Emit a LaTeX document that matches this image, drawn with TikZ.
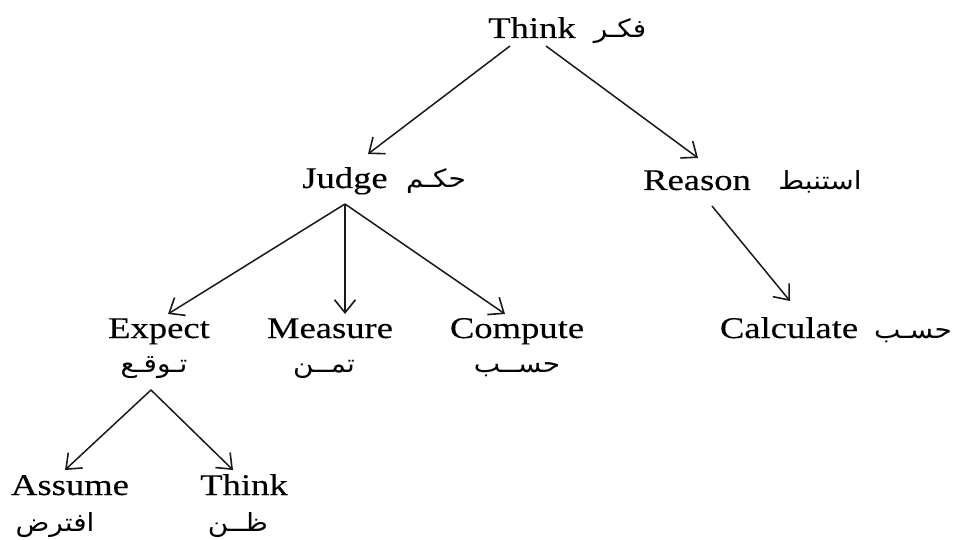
\documentclass[tikz,border=0pt]{standalone}
\usepackage{fontspec}
\setmainfont{Liberation Serif}[FakeStretch=1.22,FakeBold=0.25]
\newfontfamily\arabicfont[Script=Arabic,FakeStretch=1.12]{DejaVu Sans}
\TeXXeTstate=1
\usetikzlibrary{arrows.meta,calc}
\begin{document}
\begin{tikzpicture}[x=1pt,y=-1pt,
  en/.style={anchor=base,inner sep=0pt,font=\fontsize{30}{36}\selectfont},
  ar/.style={anchor=base,inner sep=0pt,font=\arabicfont\fontsize{25}{30}\selectfont},
  arr/.style={-{Straight Barb[length=13pt,width=21pt,line width=1.6pt]},line width=1.5pt,black!90}]
\useasboundingbox (0,0) rectangle (953,540);
% top level
\node[en] (think) at (532,38) {Think};
\node[ar] (thinkAr) at (620,38) {\beginR فكـر\endR};
% second level
\node[en] (judge) at (345,188) {Judge};
\node[ar] (judgeAr) at (436,188) {\beginR حكـم\endR};
\node[en] (reason) at (697,190) {Reason};
\node[ar] (reasonAr) at (820,190) {\beginR استنبط\endR};
% third level
\node[en] (expect) at (159,338) {Expect};
\node[ar] (expectAr) at (154,372) {\beginR تـوقـع\endR};
\node[en] (measure) at (330,338) {Measure};
\node[ar] (measureAr) at (324,372) {\beginR تمــن\endR};
\node[en] (compute) at (517,338) {Compute};
\node[ar] (computeAr) at (517,372) {\beginR حســب\endR};
\node[en] (calculate) at (789,338) {Calculate};
\node[ar] (calculateAr) at (913,338) {\beginR حسـب\endR};
% fourth level
\node[en] (assume) at (70,495) {Assume};
\node[ar] (assumeAr) at (55,531) {\beginR افترض\endR};
\node[en] (think2) at (244,495) {Think};
\node[ar] (think2Ar) at (238,531) {\beginR ظــن\endR};
% connectors
\draw[arr] ($(think.base)+(-22,8)$) -- ($(judge.base)+(23,-34)$);
\draw[arr] ($(think.base)+(14,8)$) -- ($(reason.base)+(1,-32)$);
\draw[arr] ($(judge.base)+(0,16)$) -- ($(expect.base)+(9,-24)$);
\draw[arr] ($(judge.base)+(0,16)$) -- ($(measure.base)+(15,-24)$);
\draw[arr] ($(judge.base)+(0,16)$) -- ($(compute.base)+(-12,-24)$);
\draw[arr] ($(reason.base)+(15,16)$) -- ($(calculate.base)+(1,-37)$);
\draw[arr] ($(expectAr.base)+(-3,18)$) -- ($(assume.base)+(-5,-25)$);
\draw[arr] ($(expectAr.base)+(-3,18)$) -- ($(think2.base)+(-11,-25)$);
\end{tikzpicture}
\end{document}
